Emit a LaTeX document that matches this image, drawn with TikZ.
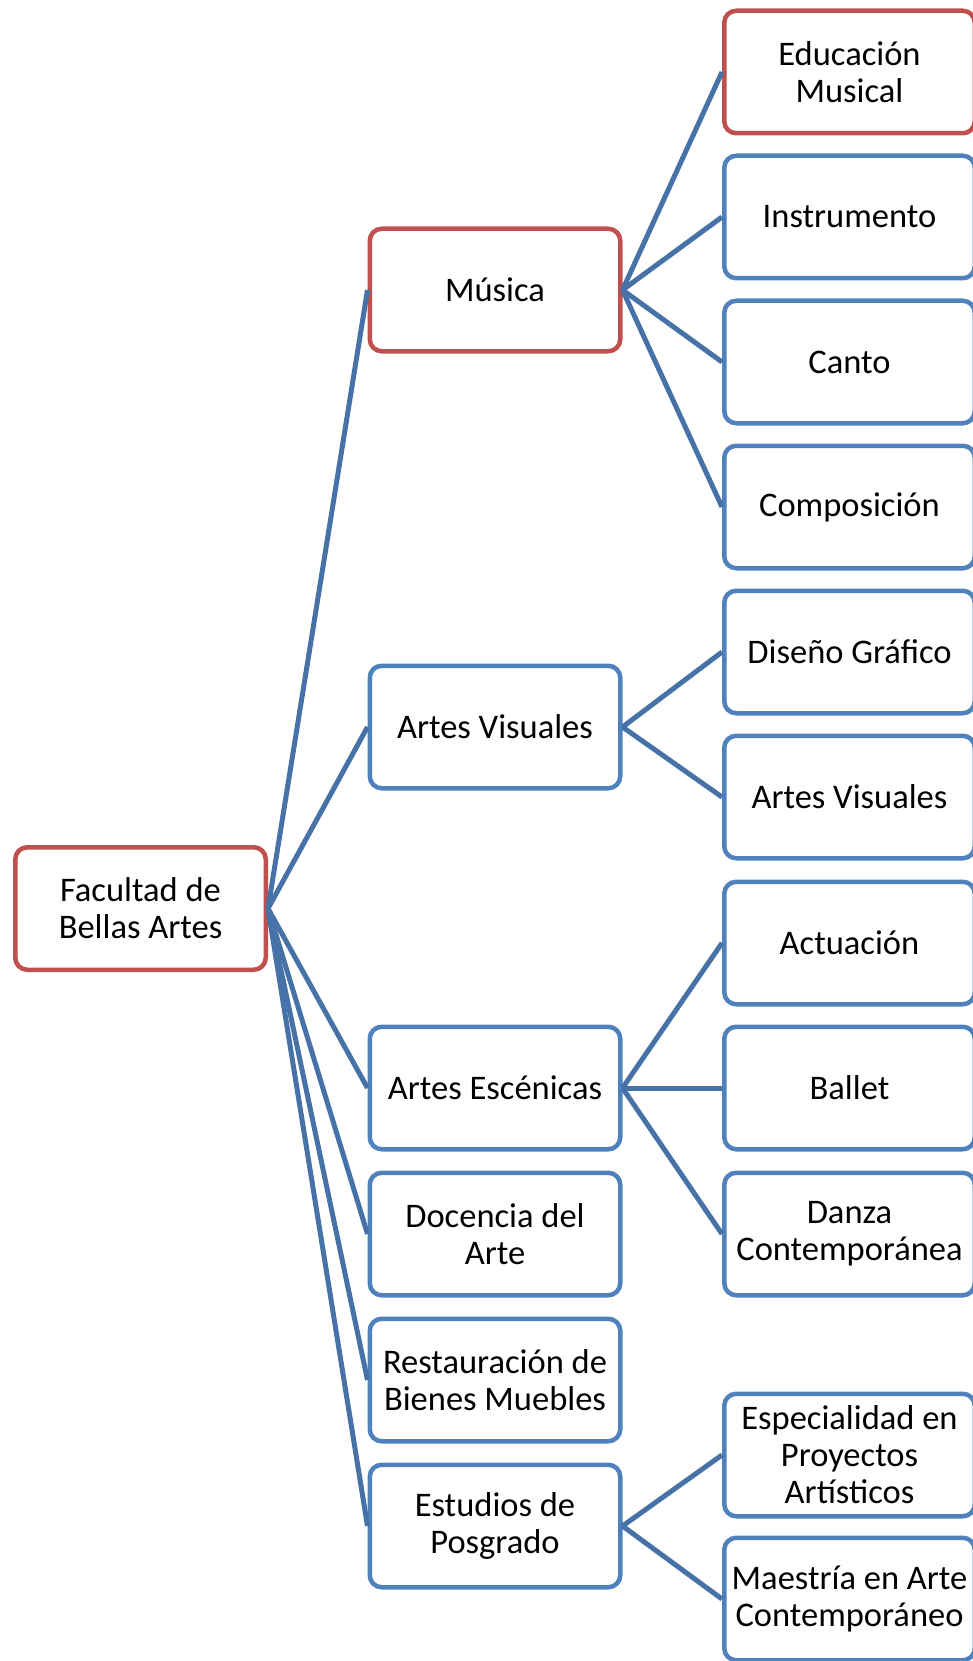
\documentclass[tikz,border=0pt]{standalone}
\usepackage{fontspec}
\setmainfont{Carlito}
\definecolor{boxred}{HTML}{C0504D}
\definecolor{boxblue}{HTML}{4F81BD}
\definecolor{linkblue}{HTML}{4672A8}

\begin{document}
\begin{tikzpicture}[x=1pt, y=-1pt,
    unit/.style={draw=boxblue, line width=4.5pt, rounded corners=12pt, fill=white,
        minimum width=250.5pt, minimum height=122.5pt, align=center, inner sep=2pt,
        font=\fontsize{34.5}{37}\selectfont},
    hot/.style={unit, draw=boxred},
    link/.style={draw=linkblue, line width=5pt}]
    \useasboundingbox (0, 0) rectangle (972, 1661);
    % root
    \node[hot] (fba) at (140.5, 908.5) {Facultad de\\Bellas Artes};
    % level 1
    \node[hot]  (mus) at (495, 290)  {Música};
    \node[unit] (vis) at (495, 727)  {Artes Visuales};
    \node[unit] (esc) at (495, 1088) {Artes Escénicas};
    \node[unit] (doc) at (495, 1234) {Docencia del\\Arte};
    \node[unit] (res) at (495, 1380) {Restauración de\\Bienes Muebles};
    \node[unit] (pos) at (495, 1526) {Estudios de\\Posgrado};
    % level 2
    \node[hot]  (edu) at (849.5, 72)   {Educación\\Musical};
    \node[unit] (ins) at (849.5, 217)  {Instrumento};
    \node[unit] (can) at (849.5, 362)  {Canto};
    \node[unit] (com) at (849.5, 507)  {Composición};
    \node[unit] (dis) at (849.5, 652)  {Diseño Gráfico};
    \node[unit] (avs) at (849.5, 797)  {Artes Visuales};
    \node[unit] (act) at (849.5, 943)  {Actuación};
    \node[unit] (bal) at (849.5, 1088) {Ballet};
    \node[unit] (dan) at (849.5, 1234) {Danza\\Contemporánea};
    \node[unit] (esp) at (849.5, 1455) {Especialidad en\\Proyectos\\Artísticos};
    \node[unit] (mae) at (849.5, 1599) {Maestría en Arte\\Contemporáneo};
    % connectors
    \foreach \k in {mus, vis, esc, doc, res, pos}
        \draw[link] (fba.east) -- (\k.west);
    \foreach \k in {edu, ins, can, com}
        \draw[link] (mus.east) -- (\k.west);
    \foreach \k in {dis, avs}
        \draw[link] (vis.east) -- (\k.west);
    \foreach \k in {act, bal, dan}
        \draw[link] (esc.east) -- (\k.west);
    \foreach \k in {esp, mae}
        \draw[link] (pos.east) -- (\k.west);
\end{tikzpicture}
\end{document}
